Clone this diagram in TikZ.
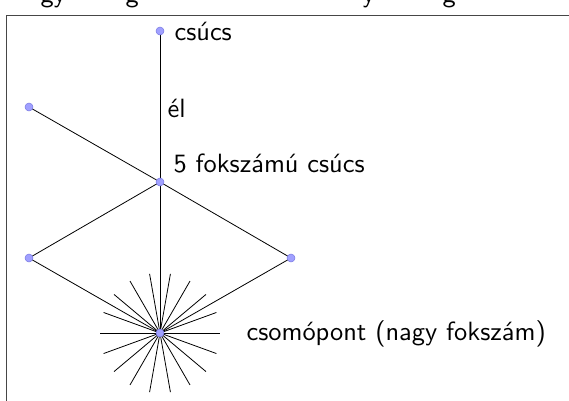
\documentclass[tikz,border=0pt]{standalone}
\usetikzlibrary{backgrounds,calc}
\definecolor{dotfill}{RGB}{160,160,255}
\definecolor{dotline}{RGB}{120,120,225}
\definecolor{framecol}{RGB}{70,70,70}
\tikzset{
  vdot/.style={circle,fill=dotfill,draw=dotline,line width=0.5pt,minimum size=8pt,inner sep=0pt},
  lab/.style={font=\sffamily,scale=2.64,inner sep=0pt,anchor=base west},
  edge/.style={line width=0.8pt,black},
}
\begin{document}
\begin{tikzpicture}[x=1pt,y=-1pt]
\useasboundingbox (0,0) rectangle (569,400);
\begin{scope}
\clip (0,0) rectangle (569,400);
\node[lab] (t1) at (40,2) {gy};
\node[lab] (t2) at (125,2) {g};
\node[lab] (t3) at (362,2) {y};
\node[lab] (t4) at (442,2) {g};
\end{scope}
\draw[framecol,line width=1pt] (6,401) -- (6,15) -- (570,15);
\node[vdot] (top) at (160,31) {};
\node[vdot] (ul) at (29,107) {};
\node[vdot] (mid) at (160,182) {};
\node[vdot] (ll) at (29,258) {};
\node[vdot] (lr) at (291,258) {};
\node[vdot] (hub) at (160,333) {};
\begin{scope}[on background layer]
\draw[edge] (top.center) -- (mid.center);
\draw[edge] (ul.center) -- (mid.center);
\draw[edge] (mid.center) -- (ll.center);
\draw[edge] (mid.center) -- (lr.center);
\draw[edge] (mid.center) -- (hub.center);
\draw[edge] (ll.center) -- (hub.center);
\draw[edge] (lr.center) -- (hub.center);
\foreach \a in {0,20,...,340}{
  \coordinate (s\a) at ($(hub.center)+(\a:60)$);
  \draw[edge] (hub.center) -- (s\a);
}
\end{scope}
\node[lab] (lcsucs) at (174,40) {csúcs};
\node[lab] (lel) at (167,117) {él};
\node[lab] (lmid) at (173,172) {5 fokszámú csúcs};
\node[lab] (lhub) at (246,340) {csomópont (nagy fokszám)};
\end{tikzpicture}
\end{document}
